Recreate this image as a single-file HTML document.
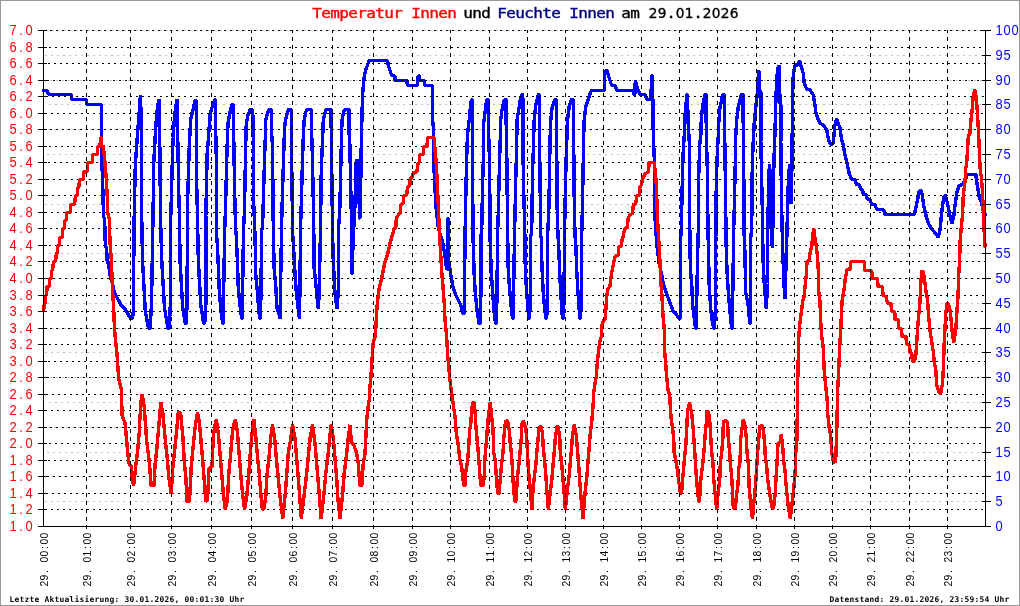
<!DOCTYPE html>
<html lang="de"><head><meta charset="utf-8"><title>Temperatur Innen und Feuchte Innen am 29.01.2026</title>
<style>html,body{margin:0;padding:0;background:#fff;overflow:hidden}svg{display:block}text{font-family:"Liberation Sans","DejaVu Sans",sans-serif}.yl{font-size:14px;fill:#f00}.yr{font-size:14px;fill:#00f}.xl{font-size:11.5px;fill:#000}.ft{font-family:"DejaVu Sans Mono","Liberation Mono",monospace;font-size:7.9px;fill:#000;font-weight:bold}.td{font-family:"DejaVu Sans","Liberation Sans",sans-serif;font-size:13.7px;stroke-width:0.35px;paint-order:stroke}.tt{font-family:"DejaVu Sans Mono","Liberation Mono",monospace;font-size:13.7px;stroke-width:0.35px;paint-order:stroke}</style></head><body>
<svg width="1020" height="606" viewBox="0 0 1020 606">
<rect x="0" y="0" width="1020" height="606" fill="#fff"/>
<rect x="0.5" y="0.5" width="1019" height="605" fill="none" stroke="#999" stroke-width="1" shape-rendering="crispEdges"/>
<g shape-rendering="crispEdges" fill="none" stroke-width="1">
<line x1="46" y1="30.5" x2="984" y2="30.5" stroke="#c0c0c0" stroke-dasharray="2 4"/>
<line x1="45" y1="55.5" x2="984" y2="55.5" stroke="#c0c0c0" stroke-dasharray="2 4"/>
<line x1="50" y1="80.5" x2="984" y2="80.5" stroke="#c0c0c0" stroke-dasharray="2 4"/>
<line x1="49" y1="104.5" x2="984" y2="104.5" stroke="#c0c0c0" stroke-dasharray="2 4"/>
<line x1="48" y1="129.5" x2="984" y2="129.5" stroke="#c0c0c0" stroke-dasharray="2 4"/>
<line x1="47" y1="154.5" x2="984" y2="154.5" stroke="#c0c0c0" stroke-dasharray="2 4"/>
<line x1="46" y1="179.5" x2="984" y2="179.5" stroke="#c0c0c0" stroke-dasharray="2 4"/>
<line x1="45" y1="204.5" x2="984" y2="204.5" stroke="#c0c0c0" stroke-dasharray="2 4"/>
<line x1="50" y1="228.5" x2="984" y2="228.5" stroke="#c0c0c0" stroke-dasharray="2 4"/>
<line x1="49" y1="253.5" x2="984" y2="253.5" stroke="#c0c0c0" stroke-dasharray="2 4"/>
<line x1="48" y1="278.5" x2="984" y2="278.5" stroke="#c0c0c0" stroke-dasharray="2 4"/>
<line x1="47" y1="303.5" x2="984" y2="303.5" stroke="#c0c0c0" stroke-dasharray="2 4"/>
<line x1="46" y1="328.5" x2="984" y2="328.5" stroke="#c0c0c0" stroke-dasharray="2 4"/>
<line x1="45" y1="352.5" x2="984" y2="352.5" stroke="#c0c0c0" stroke-dasharray="2 4"/>
<line x1="50" y1="377.5" x2="984" y2="377.5" stroke="#c0c0c0" stroke-dasharray="2 4"/>
<line x1="49" y1="402.5" x2="984" y2="402.5" stroke="#c0c0c0" stroke-dasharray="2 4"/>
<line x1="48" y1="427.5" x2="984" y2="427.5" stroke="#c0c0c0" stroke-dasharray="2 4"/>
<line x1="47" y1="452.5" x2="984" y2="452.5" stroke="#c0c0c0" stroke-dasharray="2 4"/>
<line x1="46" y1="476.5" x2="984" y2="476.5" stroke="#c0c0c0" stroke-dasharray="2 4"/>
<line x1="45" y1="501.5" x2="984" y2="501.5" stroke="#c0c0c0" stroke-dasharray="2 4"/>
</g>
<path d="M42,90.5 L47.5,90.5 L48.5,94.5 L71,94.5 L72,99.5 L86,99.5 L87,104.5 L101.5,104.5 L101.8,158 L102.8,188 L103.5,216 L104.2,218 L105,228 L105.3,246 L106.7,248 L107,260 L108.7,265 L110.3,277 L112.5,283.5 L114.2,292 L117.5,298.5 L121.7,306 L125.8,310 L130.5,318.5 L132.5,318.5 L133.3,311 L134.2,216 L135.3,165 L136.7,145 L137.8,130 L138.5,121 L139.5,108 L140.4,95 L140.7,100 L141.2,128 L141.7,216 L142.5,260 L145.3,311 L148.5,328.5 L150,328.5 L151.5,305 L153,216 L153.8,162 L155.3,135 L156.5,117 L157.5,108 L158.5,101.5 L159.2,99.5 L159.5,105 L159.7,135 L160.5,216 L161.7,260 L164.5,308 L168,328.5 L169.3,328.5 L170.3,305 L170.8,216 L171.7,185 L172.5,153 L173.5,131.7 L174.5,117 L175.5,109 L176.5,102 L177,99.5 L177.5,104 L177.7,135 L178.8,195 L179.5,216 L180,260 L182.7,308 L185.3,323.5 L186.3,323.5 L187,305 L187.5,216 L187.8,195 L189.2,148 L190.2,128 L190.5,120.5 L191.5,116 L192.5,111 L193.5,108.5 L194.5,103 L195.5,99.5 L196.4,101 L196.5,135 L196.8,188 L197.5,216 L198.3,260 L200.8,305 L203.7,323.5 L204.7,323.5 L205.8,305 L205.8,216 L207.2,153 L208.3,140 L210,115 L211.7,108.3 L214.2,101.7 L215,99.5 L215.6,99.5 L215.8,135 L216.5,167 L216.7,236 L217.5,247 L219.2,288.5 L220.8,310 L222.8,323.5 L223.4,323.5 L223.7,288.5 L224.7,230 L225.5,208 L226.7,160 L227.5,135 L228,123.3 L230,111.7 L231.7,105 L232.3,104.5 L233.3,104.5 L233.7,135 L234.5,183 L235.5,228 L236.3,236 L237.5,263.5 L238.3,288.5 L240,305 L241.7,318.5 L242.2,318.5 L242.5,298.5 L243.5,230 L244.5,210 L245.5,153 L246.3,123.3 L248,115 L250,110 L250.8,109.5 L252.7,109.5 L253.2,135 L253.5,198 L255,236 L255.8,275 L257.5,293.5 L258.7,310 L259.7,318.5 L260.2,318.5 L260.8,302 L261.7,230 L262.5,228 L263.7,188 L264.5,160 L265.3,138 L265.8,120 L267.5,113.3 L269.2,109.5 L271.5,109.5 L271.7,135 L272.5,145 L273.3,230 L274.2,268.5 L275.8,287 L277,308 L279.2,315 L280,318.5 L280.5,300 L280.8,273.5 L281.5,230 L282.3,198 L283.3,167 L284.2,138 L285,123 L286.7,115 L288.3,110 L288.8,109.5 L291.2,109.5 L291.4,135 L292,188 L292.8,236 L293.3,243 L295,273.5 L296.3,292 L298.3,310 L299.5,318.5 L300,283.5 L300.5,230 L301.3,203 L302.5,160 L303.3,137 L304.2,120 L305.8,111.7 L307,109.5 L311.5,109.5 L311.7,135 L312.5,160 L313.7,223 L314.2,268.5 L315.8,283.5 L317,297 L318.3,308.5 L319.2,293.5 L320,253 L320.5,230 L321.3,168 L322.5,142 L323.3,120 L325.3,111.7 L326.3,109.5 L331,109.5 L331.3,135 L331.7,165 L332.5,230 L333.3,262 L335,293.5 L337,308.5 L338.3,292 L338.3,230 L339.7,213 L341.3,145 L342,120 L343.7,111.7 L344.7,109.5 L349,109.5 L349.2,135 L349.8,143 L351.3,213 L351.7,273.5 L352,273.5 L353.3,236 L355,205 L356,163 L357,159.5 L358.5,170 L359.5,218 L360.3,218 L361.3,141 L362.5,96.7 L363.7,80 L365.5,70.8 L367.5,65 L369,60.5 L370,60.5 L387.5,60.5 L388.3,65.5 L390,70.5 L391.7,75.5 L394.7,75.5 L395.2,80.5 L406.7,80.5 L407.5,85.5 L417.5,85.5 L418.3,75.5 L419.3,75.5 L420,80.5 L424.2,80.5 L425,85.5 L432.3,85.5 L432.5,118 L433.7,131.7 L434.2,173 L435,190 L436.3,210 L438.3,228 L440.8,236 L443.3,245 L445,256.7 L446.7,269.2 L447.3,269 L447.5,218.3 L448.3,218.3 L448.7,260 L450,270 L451.7,280 L453.3,288.3 L455.8,295 L458.3,300 L460.8,305 L462.5,313.5 L464,313.5 L464.5,300 L465,236 L466.2,177 L467,147 L467.5,135 L469.2,120 L470.8,103.3 L471.7,99.5 L472.2,99.5 L472.3,135 L472.5,148 L473,236 L474.2,275 L475.3,293.3 L477,310 L479,323.5 L480,323.5 L480.8,296.7 L480.8,236 L481.7,232 L482.5,187 L483.7,148 L483.7,123.3 L485.3,110 L486.7,100 L487.2,99.5 L488.3,99.5 L488.7,135 L489.7,168 L490,236 L491.3,273.3 L493,296.7 L494.2,313.3 L495.5,323.5 L496.2,323.5 L497,296.7 L497.5,236 L498.3,213 L499.5,163 L500.3,138 L500.3,123.3 L502,110 L503.7,101.7 L505,99.5 L506,99.5 L506.3,135 L506.7,147 L507.5,222 L508.3,273.3 L510,293.3 L511.3,308.3 L512.5,318.5 L513.2,318.5 L513.8,280 L514.5,236 L515.8,178 L516.7,145 L517,120 L519.2,106.7 L520.8,96.7 L522,94.5 L522.8,94.5 L523,135 L523.3,178 L524.7,225 L525.3,270 L526.3,286.7 L527.5,303.3 L529,318.5 L529.5,318.5 L530.3,303.3 L530.8,236 L531.7,232 L532.5,173 L533.5,145 L533.7,135 L534.2,120 L535.8,105 L537.5,98.3 L538.3,94.5 L539.3,94.5 L539.5,135 L540,178 L540.8,236 L541.3,238.5 L542,268.3 L543.3,293.3 L544.7,310 L546,318.5 L546.7,318.5 L547.2,303.3 L547.5,236 L548.7,215 L549.7,163 L550,141 L550.8,120 L552,108.3 L554.2,101.7 L554.8,99.5 L556.5,99.5 L556.7,135 L557,203 L558,236 L558.7,246.7 L559.7,273.3 L560.8,293.3 L562,313.3 L563,318.5 L563.6,318.5 L564.2,273.3 L564.5,236 L565.3,193 L566.3,153 L567,135 L567.5,120 L569.2,106.7 L570.8,100.8 L571.5,99.5 L573.5,99.5 L573.7,135 L574,187 L575,236 L575.8,245 L576.7,270 L578,293.3 L579.2,310 L580,318.5 L580.7,318.5 L581.3,288.3 L581.7,236 L582.5,203 L583.3,158 L583.7,135 L584.2,120 L585.8,106.7 L587.5,101.7 L589.2,96.7 L591.3,90.5 L604.2,90.5 L604.5,75.5 L606,70.5 L607.2,70.5 L608.3,75.5 L610,80.5 L611.7,85.5 L615.3,85.5 L616.7,90.5 L633.3,90.5 L634.2,94.5 L634.8,94.5 L635.3,80.5 L636.7,85.5 L638.3,90.5 L640,94.5 L645,94.5 L646.7,99.5 L650.8,99.5 L651.8,75.5 L652.5,75.5 L653.3,135 L654.2,157 L654.2,195 L655,218.3 L655.8,230 L657,246.7 L659.2,263.3 L661.7,275 L663.3,283.3 L665.8,291.7 L668.3,298.3 L670.8,305 L673.3,311.7 L676.7,315 L678.8,318.5 L680.3,318.5 L680.8,236 L681.3,230 L682.5,172 L683.3,150 L684.2,136 L684.2,123.3 L685.8,106.7 L687,94.5 L687.5,94.5 L688,120 L689.2,141 L689.2,210 L690,236 L690.3,268.3 L691.7,283.3 L692.5,303.3 L694.2,318.3 L695.5,328.5 L696.2,328.5 L697.5,260 L698.3,230 L698.5,183 L699.7,145 L700.8,135 L701.3,120 L702.5,106.7 L704.2,98.3 L705,94.5 L706,94.5 L706.3,135 L707.5,175 L708,236 L708.3,241.7 L709.2,285 L710.8,310 L712.5,323.3 L713.8,328.5 L714.5,328.5 L715.3,310 L715.8,236 L715.8,207 L717,160 L718.3,135 L718.7,123.3 L720,106.7 L721.7,100 L722.5,94.5 L724.5,94.5 L724.7,135 L725.5,192 L726.3,253.5 L727.5,280 L728.7,296.7 L730,311.7 L731.7,328.5 L732.3,328.5 L733,278.3 L733.7,230 L734.5,198 L735.5,153 L735.8,135 L736.7,120 L738.3,106.7 L740,100 L741.3,94.5 L743,94.5 L743.3,135 L743.7,162 L744.2,236 L744.7,245 L745.8,293.3 L748,303.3 L749.2,316.7 L750,323.5 L750.5,323.5 L750.8,236.7 L751.7,230 L752.2,173 L753,145 L753.3,141 L754.2,123.3 L755.8,106.7 L757,96.7 L758,81.7 L758.8,70.5 L759.7,90 L760.8,91.7 L760.8,141 L761.3,163 L762.5,218 L763,258.5 L764.2,283.3 L765.3,296.7 L766.3,308.5 L767.5,283.5 L767.8,230 L768.5,190 L769,172 L769.5,164.5 L770.5,180 L771.5,230 L772.3,248 L772.8,230 L773.5,180 L774.3,150 L774.7,141 L775.3,120 L776.3,88.3 L777,75 L778.3,66.7 L779.2,65.5 L780,103.3 L780.8,105 L780.8,141 L781.5,200 L782.5,245 L784,285 L785,298.5 L786,265 L787,230 L788,190 L789,172 L789.5,164.5 L790.5,180 L791,204 L791.5,190 L792,160 L792.5,96.7 L793.3,75 L795,65 L797.5,65.5 L799.5,60.5 L801.7,68.3 L803.3,73.3 L804.2,83.3 L806.7,89.2 L810,90 L813.3,95 L814.7,103.3 L815.8,111.7 L817.5,118.3 L820,123.3 L823.3,125 L826.7,130 L828.3,138.3 L829.2,141.7 L830.8,144.5 L833.3,143.3 L834.7,126.7 L836.3,119.5 L837,119.5 L838.3,123.3 L840,128.3 L841.7,140 L843.3,145 L845,155 L847,163.3 L849.2,173.3 L851.7,179.5 L855,179.5 L856.3,184.5 L859.2,184.5 L860.8,189.5 L862.5,189.5 L863.3,194.5 L866,194.5 L867.5,199.5 L870,199.5 L871.7,204.5 L875,204.5 L876.7,209.5 L883.5,209.5 L885,214.5 L914.2,214.5 L915.8,208.3 L917.5,200 L919.2,191.7 L920.3,190.5 L921.3,190.5 L922.5,196.7 L924.2,208.3 L926.7,218.3 L929.2,225 L932.5,230 L935.8,233.5 L938.3,237.5 L940,230 L941.3,216.7 L942.5,205 L944.2,196.7 L945.3,195 L947.5,203.3 L949.2,211.7 L950.8,220 L952,223.5 L953.7,216.7 L955.3,203.3 L957,191.7 L959.2,185.8 L962.5,184.5 L965,180 L967.5,174.5 L975.8,174.5 L977.5,186.7 L979.2,196.7 L981.7,203.3 L983.3,210 L985,214.5 L986.5,214.5" fill="none" stroke="#00f" stroke-width="3.4" stroke-linejoin="bevel" stroke-linecap="butt" shape-rendering="crispEdges"/>
<g shape-rendering="crispEdges" fill="none" stroke-width="1">
<line x1="44" y1="30.5" x2="985" y2="30.5" stroke="#000" stroke-dasharray="2 4"/>
<line x1="49" y1="47.5" x2="985" y2="47.5" stroke="#000" stroke-dasharray="2 4"/>
<line x1="48" y1="63.5" x2="985" y2="63.5" stroke="#000" stroke-dasharray="2 4"/>
<line x1="47" y1="80.5" x2="985" y2="80.5" stroke="#000" stroke-dasharray="2 4"/>
<line x1="46" y1="96.5" x2="985" y2="96.5" stroke="#000" stroke-dasharray="2 4"/>
<line x1="45" y1="113.5" x2="985" y2="113.5" stroke="#000" stroke-dasharray="2 4"/>
<line x1="44" y1="129.5" x2="985" y2="129.5" stroke="#000" stroke-dasharray="2 4"/>
<line x1="49" y1="146.5" x2="985" y2="146.5" stroke="#000" stroke-dasharray="2 4"/>
<line x1="48" y1="162.5" x2="985" y2="162.5" stroke="#000" stroke-dasharray="2 4"/>
<line x1="47" y1="179.5" x2="985" y2="179.5" stroke="#000" stroke-dasharray="2 4"/>
<line x1="46" y1="195.5" x2="985" y2="195.5" stroke="#000" stroke-dasharray="2 4"/>
<line x1="45" y1="212.5" x2="985" y2="212.5" stroke="#000" stroke-dasharray="2 4"/>
<line x1="44" y1="228.5" x2="985" y2="228.5" stroke="#000" stroke-dasharray="2 4"/>
<line x1="49" y1="245.5" x2="985" y2="245.5" stroke="#000" stroke-dasharray="2 4"/>
<line x1="48" y1="261.5" x2="985" y2="261.5" stroke="#000" stroke-dasharray="2 4"/>
<line x1="47" y1="278.5" x2="985" y2="278.5" stroke="#000" stroke-dasharray="2 4"/>
<line x1="46" y1="295.5" x2="985" y2="295.5" stroke="#000" stroke-dasharray="2 4"/>
<line x1="45" y1="311.5" x2="985" y2="311.5" stroke="#000" stroke-dasharray="2 4"/>
<line x1="44" y1="328.5" x2="985" y2="328.5" stroke="#000" stroke-dasharray="2 4"/>
<line x1="49" y1="344.5" x2="985" y2="344.5" stroke="#000" stroke-dasharray="2 4"/>
<line x1="48" y1="361.5" x2="985" y2="361.5" stroke="#000" stroke-dasharray="2 4"/>
<line x1="47" y1="377.5" x2="985" y2="377.5" stroke="#000" stroke-dasharray="2 4"/>
<line x1="46" y1="394.5" x2="985" y2="394.5" stroke="#000" stroke-dasharray="2 4"/>
<line x1="45" y1="410.5" x2="985" y2="410.5" stroke="#000" stroke-dasharray="2 4"/>
<line x1="44" y1="427.5" x2="985" y2="427.5" stroke="#000" stroke-dasharray="2 4"/>
<line x1="49" y1="443.5" x2="985" y2="443.5" stroke="#000" stroke-dasharray="2 4"/>
<line x1="48" y1="460.5" x2="985" y2="460.5" stroke="#000" stroke-dasharray="2 4"/>
<line x1="47" y1="476.5" x2="985" y2="476.5" stroke="#000" stroke-dasharray="2 4"/>
<line x1="46" y1="493.5" x2="985" y2="493.5" stroke="#000" stroke-dasharray="2 4"/>
<line x1="45" y1="509.5" x2="985" y2="509.5" stroke="#000" stroke-dasharray="2 4"/>
</g>
<path d="M43,311.5 L43.6,311.5 L44.4,303.5 L45.1,303.5 L45.9,295.5 L46.4,295.5 L47.2,286.5 L49.1,286.5 L49.9,278.5 L51.1,278.5 L51.9,270.5 L52.6,270.5 L53.4,261.5 L55.6,261.5 L56.4,253.5 L57.1,253.5 L57.9,245.5 L59.1,245.5 L59.9,237.5 L62.1,237.5 L62.9,228.5 L64.1,228.5 L64.9,220.5 L66.1,220.5 L66.9,212.5 L70.1,212.5 L70.9,204.5 L74.6,204.5 L75.4,195.5 L77.1,195.5 L77.9,187.5 L78.8,187.5 L79.6,179.5 L83.3,179.5 L84.1,171.5 L87.1,171.5 L87.9,162.5 L92.1,162.5 L92.9,154.5 L97.1,154.5 L97.9,146.5 L99.9,146.5 L100.7,137.5 L101.1,137.5 L101.9,146.5 L103.3,145.3 L105,163 L106.3,179 L107.2,196 L107.8,213 L109.2,218.3 L110,241.7 L111.3,260 L112,276.7 L112.7,293.3 L113.5,305 L114.5,328.3 L115.8,343.3 L117,353.3 L117.8,365.8 L118.8,379.2 L121.5,390 L122,415 L125,423 L126.2,435.5 L127.5,450 L128.8,463 L131.3,466.7 L132,480 L133.7,485.5 L135.8,465 L137.5,452.5 L139.2,433 L140,416.7 L141.2,400 L142.2,394.5 L144.2,406.7 L145.3,421.7 L146.7,441.7 L148.3,453.3 L150,470 L150.8,485.5 L154,485.5 L155,465 L156.7,450 L158.3,431.7 L159.7,415 L160.8,402.5 L162.8,413.3 L164.2,428.3 L165.8,445 L167.5,460.5 L168.7,476.7 L171.2,493.5 L172.8,468.3 L175,446.7 L176.7,430 L178.3,411.7 L178.8,412.3 L180.5,412.3 L181.7,425 L183,438.3 L184.2,460.5 L185.8,476.7 L187,501.5 L189.5,501.5 L191.3,465 L193,448.3 L195,428.3 L197.5,412.2 L199.5,423.3 L200.8,438.3 L202.5,458.3 L203.7,473.3 L205.8,501.5 L207.5,500 L209,468.5 L212,466.7 L213.3,436.7 L215,425 L216.3,419.5 L218.3,433.3 L220,453.3 L221.7,473.3 L223.3,493.3 L225.3,509.5 L227.5,500 L228.7,475 L230.8,452.5 L232.5,431.7 L234.2,423.3 L235.5,419.5 L237.5,433.3 L239.2,455 L240.8,475 L242.5,493.3 L244.5,509.5 L246.7,496.7 L248.7,475 L250.3,453.3 L251.7,436.7 L253.8,419.5 L255.8,436.7 L257.5,456.7 L259.2,473.3 L260.8,493.3 L262.3,509 L263.7,509 L265.8,496.7 L267,475 L269.2,455 L270.8,436.7 L272.5,424.7 L274.7,438.3 L276.3,458.3 L278.3,478.3 L280,496.7 L282.8,518.5 L285.3,493.3 L286.7,475 L288.3,452.5 L290.8,438.3 L292.5,424.7 L295,438.3 L296.7,458.3 L298.3,478.3 L299.7,496.7 L301.3,518.5 L304.3,493.3 L306.7,473.3 L308.7,452.5 L310.3,436.7 L312.5,424.7 L315,443.5 L316.7,463.3 L318.3,483.3 L319.7,500 L321.2,518.5 L324,493.3 L325.8,473.3 L328,455 L329.7,438.3 L331.2,424.7 L333.3,438.3 L335,458.3 L336.7,478.3 L338,500 L340,518.5 L342.7,493.3 L344.2,473.3 L346.3,456.7 L348,440 L350,424.7 L351.5,443.5 L353.3,443.5 L356.7,453.3 L358.3,463.3 L359.8,485.5 L361.8,485.5 L363.3,463.3 L365,453.3 L365.8,438.3 L366.7,420 L368.3,405 L369.2,400 L369.2,395 L369.2,393.3 L370.8,378.3 L372,360 L373.3,341.7 L375.3,336.7 L376.3,320 L376.3,316.7 L377.5,301.7 L379.2,288.3 L381.7,278.3 L383.3,270 L385,261.7 L387.5,255 L390,243.3 L391.7,237.5 L393.3,232 L393.7,228.5 L395.8,227.5 L396.3,218.3 L398.3,215 L400.3,212.5 L400.8,205 L403.3,203.3 L403.7,195.8 L406.7,195 L407.5,187.5 L410,185 L410.3,178.3 L412.5,176.7 L413.3,172.5 L417,172 L417.5,164.2 L419.2,162.5 L419.7,155 L423.3,154.2 L423.7,146.7 L427,146.5 L427.5,137.5 L434.2,137.5 L435,150 L436.3,163.3 L437,178.3 L437.8,195 L438.7,215 L439.3,232 L440.3,246.7 L441.7,271.7 L443,286.7 L444.2,303.3 L445,320 L446.2,331.7 L447,343.3 L447.8,356.7 L448.8,366.7 L449.7,378.3 L450.8,386.7 L452,395 L453.3,405 L455,416.7 L456.3,433.3 L458.3,445 L459.7,458.3 L461.7,466.7 L463.7,485.5 L465,485.5 L465.8,471.7 L467.5,461.7 L468.7,446.7 L469.7,430 L470.8,423.3 L471.7,410 L472.8,402.5 L473.8,402.5 L475,410 L475.8,425 L477,438.3 L478.3,452.5 L479.2,465 L480,476.7 L481,485.5 L483,485.5 L484.2,476.7 L484.7,461.7 L485.8,448.3 L487,433.3 L488.3,416.7 L490.3,402.5 L492,420 L493,428.3 L493.7,452.5 L495.3,460.5 L496.3,476.7 L497.7,493.5 L499,493.5 L500.3,478.3 L501.7,463.3 L503,452.5 L503.8,438.3 L505,425 L506,420.9 L507.5,420.9 L509.2,430 L510.3,443.5 L511.7,456.7 L512.5,470 L513.3,485 L514.8,501.5 L515.8,501.5 L517.5,476.7 L519.2,461.7 L520,452.5 L521.3,438.3 L521.7,425 L523.3,420.6 L525.8,428.3 L526.7,438.3 L527.5,453.3 L528.3,468.3 L529.7,483.3 L532,509.5 L532.5,496 L534.2,478.3 L535.8,465 L537,450 L538.3,436.7 L539.2,428.3 L540,426.4 L541,426.4 L542.5,433.3 L543.3,448.3 L544.7,461.7 L545.8,475 L546.7,488.3 L548.3,509.5 L550.3,491.7 L552,478.3 L553,465 L554.2,452.5 L555.3,438.3 L557,426.4 L558,426.4 L559.7,435.5 L560.3,452.5 L561.7,463.3 L563,480 L564.2,493.3 L565.3,509.5 L567.5,488.3 L569.2,475 L570.3,461.7 L571.7,446.7 L572.5,435.5 L574.2,424.7 L576.3,435.5 L577.5,450 L578.7,465 L579.7,480 L580.8,495 L583,518.5 L585,493.3 L586.7,478.3 L588,461.7 L589.2,446.7 L590.3,433.3 L591.7,421.7 L593,406.7 L593.7,393.3 L595,383.3 L596.3,376.7 L597,366.7 L598.3,353.3 L599.7,341.7 L601.3,336.7 L602,325 L603.3,320.8 L605.3,319.5 L605.8,310 L606.7,296.7 L608,288.3 L610,286.7 L610.8,278.3 L612.5,268.3 L614.2,260 L615.3,255.8 L618.3,255 L618.7,246.7 L621.3,245.8 L622,240 L623.3,236 L624.7,228.5 L627.5,227.5 L628,218.3 L630,215 L632.5,213.3 L633.3,205 L635.8,203.3 L636.7,195.8 L639.2,195 L639.7,187.5 L641.3,185 L642.5,179.2 L645,174.2 L648.3,171.7 L649.2,162.5 L654.2,162.5 L655.3,173.3 L656.3,183.3 L657,205 L658,228.5 L659.2,246.7 L660,263.3 L660.8,281.7 L662,296.7 L662.8,313.3 L664.2,328.3 L664.7,351.7 L665.8,365 L666.7,376.7 L668,390 L669.7,395 L670.3,406.7 L671.3,420 L672.5,427.5 L673.7,438.3 L674.2,452.5 L675.8,460.5 L677.5,470 L678.7,481.7 L680,488.3 L680.3,493.5 L681.5,493.5 L683,475 L684.2,461.7 L685.8,445 L686.7,430 L687.5,411.7 L689.5,402.5 L691.7,413.3 L693.3,430 L694.2,443.5 L695.3,460.5 L696.3,476.7 L697.5,490 L698.7,501.5 L699.7,501.5 L700,488.3 L701.7,471.7 L703,461.7 L704.2,448.3 L705.3,433.3 L706.3,423.3 L707,411.7 L708.5,411.7 L710,423.3 L710.8,438.3 L711.7,452.5 L713,463.3 L713.7,478.3 L715,493.3 L716.7,509.5 L718.3,490 L719.7,481.7 L720.3,463.3 L721.7,452.5 L723,436.7 L723.3,423.3 L724,420.9 L726.3,420.9 L727.5,423.3 L728.3,438.3 L729.7,452.5 L730.3,463.3 L731.7,476.7 L732.5,491.7 L733.3,508 L735.3,508 L736.7,493.3 L738,485 L738.7,468.3 L740,461.7 L740.8,438.3 L742,428.3 L743.3,419.5 L745.3,427.5 L746.3,438.3 L747,452.5 L748.3,463.3 L749.2,488.3 L750,496 L751,509 L752.5,518.5 L754.7,493.3 L755.8,481.7 L756.7,466.7 L758,446.7 L759.2,433.3 L760,425.8 L762.5,425.8 L763.7,433.3 L764.7,443.5 L765.3,456.7 L766.7,466.7 L767.5,478.3 L769.2,490 L772,508 L773.5,508 L775.3,493.3 L776,478.3 L777,463.3 L778,443.5 L780,442.5 L781.3,434.4 L783,450 L783.7,461.7 L785,470 L785.8,481.7 L786.7,491.7 L788.5,508 L790.3,518.5 L793.3,493.3 L794.7,478.3 L795.3,468.3 L795.8,452.5 L797,438.3 L797.5,391.7 L798.7,338.3 L799.7,325 L800.3,320 L801.7,310 L802.5,301.7 L804.2,296.7 L805,286.7 L806.3,275 L807,261.7 L809.2,260 L810.3,251.7 L811.7,246.7 L812.5,238.3 L813.7,228.5 L815,238.3 L816.3,246.7 L817.5,256.7 L818.3,270 L818.7,291.7 L820,301.7 L820.8,323.3 L821.7,336.7 L823.3,348.3 L824.2,370 L825.8,386.7 L827.5,403.3 L827.5,411.7 L829.2,427.5 L830.8,436.7 L831.7,452.5 L833.5,462.1 L835,462.1 L835.8,458.3 L836.3,443.5 L837,423.3 L837.5,393.3 L838.7,370 L839.7,346.7 L840.8,328.3 L841.3,316.7 L842,301.7 L844.2,288.3 L845.3,278.3 L847,270 L850,269.2 L850.8,261.5 L864.2,261.5 L864.7,270.5 L871.7,270.5 L872.2,278.5 L877.5,278.5 L878,286.5 L882.5,286.5 L883,295.5 L886,296.5 L887.5,303.5 L890.8,303.5 L891.7,311.5 L894.7,311.5 L895.2,319.5 L898.3,319.5 L898.8,328.5 L901.5,328.5 L902,336.5 L905.8,336.5 L906.7,344.5 L909.5,344.5 L910,352.5 L911.7,353.3 L912.5,361.5 L914.5,361.5 L915.8,355 L916.7,343.3 L917.5,330 L918.7,315 L920,301.7 L920.8,283.3 L921.7,271.7 L922.5,270.5 L924.2,276.7 L925.8,290 L927.5,300 L928.7,316.7 L930,330 L931.7,341.7 L933.3,351.7 L934.2,361.7 L935.8,370 L936.7,385 L939.3,393 L940.7,393 L942.5,383.3 L943.3,370 L944.2,343.3 L944.7,333.3 L945.8,313.3 L947,303.5 L948.3,303.5 L949.5,306.7 L950.8,316.7 L952,330 L953.7,343 L955.3,333.3 L956.2,323.3 L957,310 L958,296.7 L958.7,275 L959.7,260 L960,243.3 L961.3,226.7 L962.5,215 L963.3,195 L965,181.7 L965.8,168.3 L966.7,163.3 L967.5,150 L968.3,136.7 L970,133.3 L970.8,121.7 L972,111.7 L973,98.3 L974.7,89.5 L976.3,98.3 L977.5,113.3 L978.7,136.7 L979.7,160 L980.3,171 L981.3,176.7 L982.5,191.7 L983.3,213.3 L984.2,231.7 L985,246.7 L986.5,247" fill="none" stroke="#f00" stroke-width="3.4" stroke-linejoin="bevel" stroke-linecap="butt" shape-rendering="crispEdges"/>
<g shape-rendering="crispEdges" fill="none" stroke-width="1">
<line x1="86.5" y1="30" x2="86.5" y2="529" stroke="#000" stroke-dasharray="4 4" stroke-dashoffset="1"/>
<line x1="130.5" y1="30" x2="130.5" y2="529" stroke="#000" stroke-dasharray="4 4" stroke-dashoffset="1"/>
<line x1="171.5" y1="30" x2="171.5" y2="529" stroke="#000" stroke-dasharray="4 4" stroke-dashoffset="1"/>
<line x1="211.5" y1="30" x2="211.5" y2="529" stroke="#000" stroke-dasharray="4 4" stroke-dashoffset="1"/>
<line x1="251.5" y1="30" x2="251.5" y2="529" stroke="#000" stroke-dasharray="4 4" stroke-dashoffset="1"/>
<line x1="292.5" y1="30" x2="292.5" y2="529" stroke="#000" stroke-dasharray="4 4" stroke-dashoffset="1"/>
<line x1="332.5" y1="30" x2="332.5" y2="529" stroke="#000" stroke-dasharray="4 4" stroke-dashoffset="1"/>
<line x1="373.5" y1="30" x2="373.5" y2="529" stroke="#000" stroke-dasharray="4 4" stroke-dashoffset="1"/>
<line x1="412.5" y1="30" x2="412.5" y2="529" stroke="#000" stroke-dasharray="4 4" stroke-dashoffset="1"/>
<line x1="450.5" y1="30" x2="450.5" y2="529" stroke="#000" stroke-dasharray="4 4" stroke-dashoffset="1"/>
<line x1="489.5" y1="30" x2="489.5" y2="529" stroke="#000" stroke-dasharray="4 4" stroke-dashoffset="1"/>
<line x1="527.5" y1="30" x2="527.5" y2="529" stroke="#000" stroke-dasharray="4 4" stroke-dashoffset="1"/>
<line x1="565.5" y1="30" x2="565.5" y2="529" stroke="#000" stroke-dasharray="4 4" stroke-dashoffset="1"/>
<line x1="603.5" y1="30" x2="603.5" y2="529" stroke="#000" stroke-dasharray="4 4" stroke-dashoffset="1"/>
<line x1="641.5" y1="30" x2="641.5" y2="529" stroke="#000" stroke-dasharray="4 4" stroke-dashoffset="1"/>
<line x1="679.5" y1="30" x2="679.5" y2="529" stroke="#000" stroke-dasharray="4 4" stroke-dashoffset="1"/>
<line x1="717.5" y1="30" x2="717.5" y2="529" stroke="#000" stroke-dasharray="4 4" stroke-dashoffset="1"/>
<line x1="756.5" y1="30" x2="756.5" y2="529" stroke="#000" stroke-dasharray="4 4" stroke-dashoffset="1"/>
<line x1="794.5" y1="30" x2="794.5" y2="529" stroke="#000" stroke-dasharray="4 4" stroke-dashoffset="1"/>
<line x1="832.5" y1="30" x2="832.5" y2="529" stroke="#000" stroke-dasharray="4 4" stroke-dashoffset="1"/>
<line x1="870.5" y1="30" x2="870.5" y2="529" stroke="#000" stroke-dasharray="4 4" stroke-dashoffset="1"/>
<line x1="909.5" y1="30" x2="909.5" y2="529" stroke="#000" stroke-dasharray="4 4" stroke-dashoffset="1"/>
<line x1="947.5" y1="30" x2="947.5" y2="529" stroke="#000" stroke-dasharray="4 4" stroke-dashoffset="1"/>
</g>
<g shape-rendering="crispEdges" stroke="#000" stroke-width="1" fill="none">
<line x1="43.5" y1="30" x2="43.5" y2="527"/>
<line x1="985.5" y1="30" x2="985.5" y2="527"/>
<line x1="43" y1="526.5" x2="986" y2="526.5"/>
<line x1="38" y1="526.5" x2="47" y2="526.5"/>
<line x1="38" y1="509.5" x2="47" y2="509.5"/>
<line x1="38" y1="493.5" x2="47" y2="493.5"/>
<line x1="38" y1="476.5" x2="47" y2="476.5"/>
<line x1="38" y1="460.5" x2="47" y2="460.5"/>
<line x1="38" y1="443.5" x2="47" y2="443.5"/>
<line x1="38" y1="427.5" x2="47" y2="427.5"/>
<line x1="38" y1="410.5" x2="47" y2="410.5"/>
<line x1="38" y1="394.5" x2="47" y2="394.5"/>
<line x1="38" y1="377.5" x2="47" y2="377.5"/>
<line x1="38" y1="361.5" x2="47" y2="361.5"/>
<line x1="38" y1="344.5" x2="47" y2="344.5"/>
<line x1="38" y1="328.5" x2="47" y2="328.5"/>
<line x1="38" y1="311.5" x2="47" y2="311.5"/>
<line x1="38" y1="295.5" x2="47" y2="295.5"/>
<line x1="38" y1="278.5" x2="47" y2="278.5"/>
<line x1="38" y1="261.5" x2="47" y2="261.5"/>
<line x1="38" y1="245.5" x2="47" y2="245.5"/>
<line x1="38" y1="228.5" x2="47" y2="228.5"/>
<line x1="38" y1="212.5" x2="47" y2="212.5"/>
<line x1="38" y1="195.5" x2="47" y2="195.5"/>
<line x1="38" y1="179.5" x2="47" y2="179.5"/>
<line x1="38" y1="162.5" x2="47" y2="162.5"/>
<line x1="38" y1="146.5" x2="47" y2="146.5"/>
<line x1="38" y1="129.5" x2="47" y2="129.5"/>
<line x1="38" y1="113.5" x2="47" y2="113.5"/>
<line x1="38" y1="96.5" x2="47" y2="96.5"/>
<line x1="38" y1="80.5" x2="47" y2="80.5"/>
<line x1="38" y1="63.5" x2="47" y2="63.5"/>
<line x1="38" y1="47.5" x2="47" y2="47.5"/>
<line x1="38" y1="30.5" x2="47" y2="30.5"/>
<line x1="980" y1="526.5" x2="991" y2="526.5"/>
<line x1="982" y1="501.5" x2="991" y2="501.5"/>
<line x1="982" y1="476.5" x2="991" y2="476.5"/>
<line x1="982" y1="452.5" x2="991" y2="452.5"/>
<line x1="982" y1="427.5" x2="991" y2="427.5"/>
<line x1="982" y1="402.5" x2="991" y2="402.5"/>
<line x1="982" y1="377.5" x2="991" y2="377.5"/>
<line x1="982" y1="352.5" x2="991" y2="352.5"/>
<line x1="982" y1="328.5" x2="991" y2="328.5"/>
<line x1="982" y1="303.5" x2="991" y2="303.5"/>
<line x1="982" y1="278.5" x2="991" y2="278.5"/>
<line x1="982" y1="253.5" x2="991" y2="253.5"/>
<line x1="982" y1="228.5" x2="991" y2="228.5"/>
<line x1="982" y1="204.5" x2="991" y2="204.5"/>
<line x1="982" y1="179.5" x2="991" y2="179.5"/>
<line x1="982" y1="154.5" x2="991" y2="154.5"/>
<line x1="982" y1="129.5" x2="991" y2="129.5"/>
<line x1="982" y1="104.5" x2="991" y2="104.5"/>
<line x1="982" y1="80.5" x2="991" y2="80.5"/>
<line x1="982" y1="55.5" x2="991" y2="55.5"/>
<line x1="980" y1="30.5" x2="991" y2="30.5"/>
</g>
<text class="yl" xml:space="preserve" text-anchor="middle" transform="scale(0.92,1)" x="14.13 22.83 31.52" y="531">1.0</text>
<text class="yl" xml:space="preserve" text-anchor="middle" transform="scale(0.92,1)" x="14.13 22.83 31.52" y="514">1.2</text>
<text class="yl" xml:space="preserve" text-anchor="middle" transform="scale(0.92,1)" x="14.13 22.83 31.52" y="498">1.4</text>
<text class="yl" xml:space="preserve" text-anchor="middle" transform="scale(0.92,1)" x="14.13 22.83 31.52" y="481">1.6</text>
<text class="yl" xml:space="preserve" text-anchor="middle" transform="scale(0.92,1)" x="14.13 22.83 31.52" y="465">1.8</text>
<text class="yl" xml:space="preserve" text-anchor="middle" transform="scale(0.92,1)" x="14.13 22.83 31.52" y="448">2.0</text>
<text class="yl" xml:space="preserve" text-anchor="middle" transform="scale(0.92,1)" x="14.13 22.83 31.52" y="432">2.2</text>
<text class="yl" xml:space="preserve" text-anchor="middle" transform="scale(0.92,1)" x="14.13 22.83 31.52" y="415">2.4</text>
<text class="yl" xml:space="preserve" text-anchor="middle" transform="scale(0.92,1)" x="14.13 22.83 31.52" y="399">2.6</text>
<text class="yl" xml:space="preserve" text-anchor="middle" transform="scale(0.92,1)" x="14.13 22.83 31.52" y="382">2.8</text>
<text class="yl" xml:space="preserve" text-anchor="middle" transform="scale(0.92,1)" x="14.13 22.83 31.52" y="366">3.0</text>
<text class="yl" xml:space="preserve" text-anchor="middle" transform="scale(0.92,1)" x="14.13 22.83 31.52" y="349">3.2</text>
<text class="yl" xml:space="preserve" text-anchor="middle" transform="scale(0.92,1)" x="14.13 22.83 31.52" y="333">3.4</text>
<text class="yl" xml:space="preserve" text-anchor="middle" transform="scale(0.92,1)" x="14.13 22.83 31.52" y="316">3.6</text>
<text class="yl" xml:space="preserve" text-anchor="middle" transform="scale(0.92,1)" x="14.13 22.83 31.52" y="300">3.8</text>
<text class="yl" xml:space="preserve" text-anchor="middle" transform="scale(0.92,1)" x="14.13 22.83 31.52" y="283">4.0</text>
<text class="yl" xml:space="preserve" text-anchor="middle" transform="scale(0.92,1)" x="14.13 22.83 31.52" y="266">4.2</text>
<text class="yl" xml:space="preserve" text-anchor="middle" transform="scale(0.92,1)" x="14.13 22.83 31.52" y="250">4.4</text>
<text class="yl" xml:space="preserve" text-anchor="middle" transform="scale(0.92,1)" x="14.13 22.83 31.52" y="233">4.6</text>
<text class="yl" xml:space="preserve" text-anchor="middle" transform="scale(0.92,1)" x="14.13 22.83 31.52" y="217">4.8</text>
<text class="yl" xml:space="preserve" text-anchor="middle" transform="scale(0.92,1)" x="14.13 22.83 31.52" y="200">5.0</text>
<text class="yl" xml:space="preserve" text-anchor="middle" transform="scale(0.92,1)" x="14.13 22.83 31.52" y="184">5.2</text>
<text class="yl" xml:space="preserve" text-anchor="middle" transform="scale(0.92,1)" x="14.13 22.83 31.52" y="167">5.4</text>
<text class="yl" xml:space="preserve" text-anchor="middle" transform="scale(0.92,1)" x="14.13 22.83 31.52" y="151">5.6</text>
<text class="yl" xml:space="preserve" text-anchor="middle" transform="scale(0.92,1)" x="14.13 22.83 31.52" y="134">5.8</text>
<text class="yl" xml:space="preserve" text-anchor="middle" transform="scale(0.92,1)" x="14.13 22.83 31.52" y="118">6.0</text>
<text class="yl" xml:space="preserve" text-anchor="middle" transform="scale(0.92,1)" x="14.13 22.83 31.52" y="101">6.2</text>
<text class="yl" xml:space="preserve" text-anchor="middle" transform="scale(0.92,1)" x="14.13 22.83 31.52" y="85">6.4</text>
<text class="yl" xml:space="preserve" text-anchor="middle" transform="scale(0.92,1)" x="14.13 22.83 31.52" y="68">6.6</text>
<text class="yl" xml:space="preserve" text-anchor="middle" transform="scale(0.92,1)" x="14.13 22.83 31.52" y="52">6.8</text>
<text class="yl" xml:space="preserve" text-anchor="middle" transform="scale(0.92,1)" x="14.13 22.83 31.52" y="35">7.0</text>
<text class="yr" xml:space="preserve" text-anchor="middle" transform="scale(0.92,1)" x="1085.87" y="531">0</text>
<text class="yr" xml:space="preserve" text-anchor="middle" transform="scale(0.92,1)" x="1085.87" y="506">5</text>
<text class="yr" xml:space="preserve" text-anchor="middle" transform="scale(0.92,1)" x="1085.87 1094.57" y="481">10</text>
<text class="yr" xml:space="preserve" text-anchor="middle" transform="scale(0.92,1)" x="1085.87 1094.57" y="457">15</text>
<text class="yr" xml:space="preserve" text-anchor="middle" transform="scale(0.92,1)" x="1085.87 1094.57" y="432">20</text>
<text class="yr" xml:space="preserve" text-anchor="middle" transform="scale(0.92,1)" x="1085.87 1094.57" y="407">25</text>
<text class="yr" xml:space="preserve" text-anchor="middle" transform="scale(0.92,1)" x="1085.87 1094.57" y="382">30</text>
<text class="yr" xml:space="preserve" text-anchor="middle" transform="scale(0.92,1)" x="1085.87 1094.57" y="357">35</text>
<text class="yr" xml:space="preserve" text-anchor="middle" transform="scale(0.92,1)" x="1085.87 1094.57" y="333">40</text>
<text class="yr" xml:space="preserve" text-anchor="middle" transform="scale(0.92,1)" x="1085.87 1094.57" y="308">45</text>
<text class="yr" xml:space="preserve" text-anchor="middle" transform="scale(0.92,1)" x="1085.87 1094.57" y="283">50</text>
<text class="yr" xml:space="preserve" text-anchor="middle" transform="scale(0.92,1)" x="1085.87 1094.57" y="258">55</text>
<text class="yr" xml:space="preserve" text-anchor="middle" transform="scale(0.92,1)" x="1085.87 1094.57" y="233">60</text>
<text class="yr" xml:space="preserve" text-anchor="middle" transform="scale(0.92,1)" x="1085.87 1094.57" y="209">65</text>
<text class="yr" xml:space="preserve" text-anchor="middle" transform="scale(0.92,1)" x="1085.87 1094.57" y="184">70</text>
<text class="yr" xml:space="preserve" text-anchor="middle" transform="scale(0.92,1)" x="1085.87 1094.57" y="159">75</text>
<text class="yr" xml:space="preserve" text-anchor="middle" transform="scale(0.92,1)" x="1085.87 1094.57" y="134">80</text>
<text class="yr" xml:space="preserve" text-anchor="middle" transform="scale(0.92,1)" x="1085.87 1094.57" y="109">85</text>
<text class="yr" xml:space="preserve" text-anchor="middle" transform="scale(0.92,1)" x="1085.87 1094.57" y="85">90</text>
<text class="yr" xml:space="preserve" text-anchor="middle" transform="scale(0.92,1)" x="1085.87 1094.57" y="60">95</text>
<text class="yr" xml:space="preserve" text-anchor="middle" transform="scale(0.92,1)" x="1085.87 1094.57 1103.26" y="35">100</text>
<g transform="translate(47.6,583.5) rotate(-90) scale(0.9,1)"><text class="xl" xml:space="preserve" text-anchor="middle" x="0 6.67 13.33 20 26.67 33.33 40 46.67 53.33" y="0">29. 00:00</text></g>
<g transform="translate(90.6,583.5) rotate(-90) scale(0.9,1)"><text class="xl" xml:space="preserve" text-anchor="middle" x="0 6.67 13.33 20 26.67 33.33 40 46.67 53.33" y="0">29. 01:00</text></g>
<g transform="translate(134.6,583.5) rotate(-90) scale(0.9,1)"><text class="xl" xml:space="preserve" text-anchor="middle" x="0 6.67 13.33 20 26.67 33.33 40 46.67 53.33" y="0">29. 02:00</text></g>
<g transform="translate(175.6,583.5) rotate(-90) scale(0.9,1)"><text class="xl" xml:space="preserve" text-anchor="middle" x="0 6.67 13.33 20 26.67 33.33 40 46.67 53.33" y="0">29. 03:00</text></g>
<g transform="translate(215.6,583.5) rotate(-90) scale(0.9,1)"><text class="xl" xml:space="preserve" text-anchor="middle" x="0 6.67 13.33 20 26.67 33.33 40 46.67 53.33" y="0">29. 04:00</text></g>
<g transform="translate(255.6,583.5) rotate(-90) scale(0.9,1)"><text class="xl" xml:space="preserve" text-anchor="middle" x="0 6.67 13.33 20 26.67 33.33 40 46.67 53.33" y="0">29. 05:00</text></g>
<g transform="translate(296.6,583.5) rotate(-90) scale(0.9,1)"><text class="xl" xml:space="preserve" text-anchor="middle" x="0 6.67 13.33 20 26.67 33.33 40 46.67 53.33" y="0">29. 06:00</text></g>
<g transform="translate(336.6,583.5) rotate(-90) scale(0.9,1)"><text class="xl" xml:space="preserve" text-anchor="middle" x="0 6.67 13.33 20 26.67 33.33 40 46.67 53.33" y="0">29. 07:00</text></g>
<g transform="translate(377.6,583.5) rotate(-90) scale(0.9,1)"><text class="xl" xml:space="preserve" text-anchor="middle" x="0 6.67 13.33 20 26.67 33.33 40 46.67 53.33" y="0">29. 08:00</text></g>
<g transform="translate(416.6,583.5) rotate(-90) scale(0.9,1)"><text class="xl" xml:space="preserve" text-anchor="middle" x="0 6.67 13.33 20 26.67 33.33 40 46.67 53.33" y="0">29. 09:00</text></g>
<g transform="translate(454.6,583.5) rotate(-90) scale(0.9,1)"><text class="xl" xml:space="preserve" text-anchor="middle" x="0 6.67 13.33 20 26.67 33.33 40 46.67 53.33" y="0">29. 10:00</text></g>
<g transform="translate(493.6,583.5) rotate(-90) scale(0.9,1)"><text class="xl" xml:space="preserve" text-anchor="middle" x="0 6.67 13.33 20 26.67 33.33 40 46.67 53.33" y="0">29. 11:00</text></g>
<g transform="translate(531.6,583.5) rotate(-90) scale(0.9,1)"><text class="xl" xml:space="preserve" text-anchor="middle" x="0 6.67 13.33 20 26.67 33.33 40 46.67 53.33" y="0">29. 12:00</text></g>
<g transform="translate(569.6,583.5) rotate(-90) scale(0.9,1)"><text class="xl" xml:space="preserve" text-anchor="middle" x="0 6.67 13.33 20 26.67 33.33 40 46.67 53.33" y="0">29. 13:00</text></g>
<g transform="translate(607.6,583.5) rotate(-90) scale(0.9,1)"><text class="xl" xml:space="preserve" text-anchor="middle" x="0 6.67 13.33 20 26.67 33.33 40 46.67 53.33" y="0">29. 14:00</text></g>
<g transform="translate(645.6,583.5) rotate(-90) scale(0.9,1)"><text class="xl" xml:space="preserve" text-anchor="middle" x="0 6.67 13.33 20 26.67 33.33 40 46.67 53.33" y="0">29. 15:00</text></g>
<g transform="translate(683.6,583.5) rotate(-90) scale(0.9,1)"><text class="xl" xml:space="preserve" text-anchor="middle" x="0 6.67 13.33 20 26.67 33.33 40 46.67 53.33" y="0">29. 16:00</text></g>
<g transform="translate(721.6,583.5) rotate(-90) scale(0.9,1)"><text class="xl" xml:space="preserve" text-anchor="middle" x="0 6.67 13.33 20 26.67 33.33 40 46.67 53.33" y="0">29. 17:00</text></g>
<g transform="translate(760.6,583.5) rotate(-90) scale(0.9,1)"><text class="xl" xml:space="preserve" text-anchor="middle" x="0 6.67 13.33 20 26.67 33.33 40 46.67 53.33" y="0">29. 18:00</text></g>
<g transform="translate(798.6,583.5) rotate(-90) scale(0.9,1)"><text class="xl" xml:space="preserve" text-anchor="middle" x="0 6.67 13.33 20 26.67 33.33 40 46.67 53.33" y="0">29. 19:00</text></g>
<g transform="translate(836.6,583.5) rotate(-90) scale(0.9,1)"><text class="xl" xml:space="preserve" text-anchor="middle" x="0 6.67 13.33 20 26.67 33.33 40 46.67 53.33" y="0">29. 20:00</text></g>
<g transform="translate(874.6,583.5) rotate(-90) scale(0.9,1)"><text class="xl" xml:space="preserve" text-anchor="middle" x="0 6.67 13.33 20 26.67 33.33 40 46.67 53.33" y="0">29. 21:00</text></g>
<g transform="translate(913.6,583.5) rotate(-90) scale(0.9,1)"><text class="xl" xml:space="preserve" text-anchor="middle" x="0 6.67 13.33 20 26.67 33.33 40 46.67 53.33" y="0">29. 22:00</text></g>
<g transform="translate(951.6,583.5) rotate(-90) scale(0.9,1)"><text class="xl" xml:space="preserve" text-anchor="middle" x="0 6.67 13.33 20 26.67 33.33 40 46.67 53.33" y="0">29. 23:00</text></g>
<text class="tt" transform="scale(1.17,1)" text-anchor="middle" fill="#f00" stroke="#f00" x="270.94 278.63 286.32 294.02 301.71 309.40 317.09 324.79 332.48 340.17 355.56 363.25 370.94 378.63 386.32" y="18">TemperaturInnen</text>
<text class="tt" transform="scale(1.17,1)" text-anchor="middle" fill="#000" stroke="#000" x="400.00 407.69 415.38" y="18">und</text>
<text class="tt" transform="scale(1.17,1)" text-anchor="middle" fill="#000080" stroke="#000080" x="429.06 436.75 444.44 452.14 459.83 467.52 475.21 490.60 498.29 505.98 513.68 521.37" y="18">FeuchteInnen</text>
<text class="tt" transform="scale(1.17,1)" text-anchor="middle" fill="#000" stroke="#000" x="535.04 542.74 573.50 596.58" y="18">am..</text>
<text class="td" text-anchor="middle" fill="#000" stroke="#000" x="653 662 680 689 707 716 725 734" y="18">29012026</text>
<text class="ft" xml:space="preserve" text-anchor="middle" x="12 17 22 27 32 37 42 47 52 57 62 67 72 77 82 87 92 97 102 107 112 117 122 127 132 137 142 147 152 157 162 167 172 177 182 187 192 197 202 207 212 217 222 227 232 237 242" y="602">Letzte Aktualisierung: 30.01.2026, 00:01:30 Uhr</text>
<text class="ft" xml:space="preserve" text-anchor="middle" x="832 837 842 847 852 857 862 867 872 877 882 887 892 897 902 907 912 917 922 927 932 937 942 947 952 957 962 967 972 977 982 987 992 997 1002 1007" y="602">Datenstand: 29.01.2026, 23:59:54 Uhr</text>
</svg></body></html>
